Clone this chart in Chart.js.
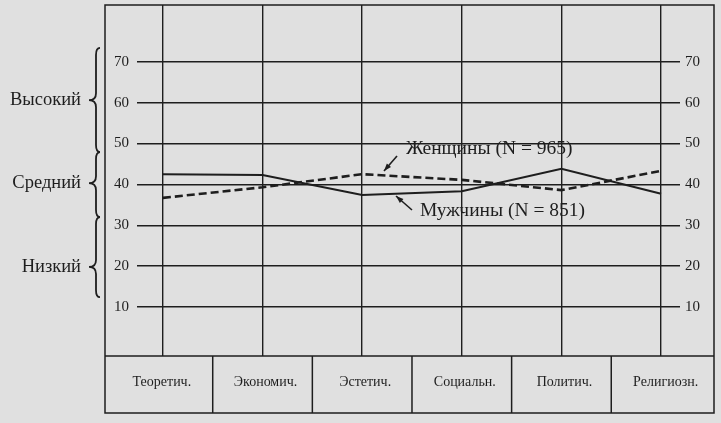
<!DOCTYPE html>
<html>
<head>
<meta charset="utf-8">
<script src="https://cdn.jsdelivr.net/npm/chart.js@4/dist/chart.umd.min.js"></script>
<style>
  html, body { margin: 0; padding: 0; background: #e0e0e0; }
  canvas { display: block; }
</style>
</head>
<body>
<canvas id="chart" width="721" height="423"></canvas>
<script>
const categories = ['Теоретич.', 'Экономич.', 'Эстетич.', 'Социальн.', 'Политич.', 'Религиозн.'];
const women = [36.7, 39.3, 42.5, 41.1, 38.6, 43.3];
const men = [42.5, 42.3, 37.4, 38.3, 43.8, 37.7];
const yTicks = [10, 20, 30, 40, 50, 60, 70];

// level brackets on the left: label, top, tip, bottom (scale values)
const bandLabels = ['Высокий', 'Средний', 'Низкий'];
const bandTop = [73.4, 47.9, 32.0];
const bandMid = [60.6, 40.3, 19.8];
const bandBottom = [47.9, 32.0, 12.4];

const ink = '#1e1e1e';
const serif = "'Liberation Serif', 'DejaVu Serif', serif";

function pts(arr) {
  return arr.map(function (v, i) { return { x: i, y: v }; });
}

function brace(ctx, xb, y0, ym, y1) {
  const r = 7;
  ctx.beginPath();
  ctx.moveTo(xb + 4, y0);
  ctx.quadraticCurveTo(xb, y0, xb, y0 + r);
  ctx.lineTo(xb, ym - r);
  ctx.quadraticCurveTo(xb, ym, xb - 7, ym);
  ctx.quadraticCurveTo(xb, ym, xb, ym + r);
  ctx.lineTo(xb, y1 - r);
  ctx.quadraticCurveTo(xb, y1, xb + 4, y1);
  ctx.stroke();
}

function arrow(ctx, x0, y0, x1, y1) {
  const a = Math.atan2(y1 - y0, x1 - x0);
  ctx.beginPath();
  ctx.moveTo(x0, y0);
  ctx.lineTo(x1, y1);
  ctx.stroke();
  ctx.beginPath();
  ctx.moveTo(x1, y1);
  ctx.lineTo(x1 - 8 * Math.cos(a - 0.35), y1 - 8 * Math.sin(a - 0.35));
  ctx.lineTo(x1 - 8 * Math.cos(a + 0.35), y1 - 8 * Math.sin(a + 0.35));
  ctx.closePath();
  ctx.fill();
}

const paper = {
  id: 'paper',
  beforeDraw(chart) {
    const ctx = chart.ctx;
    ctx.save();
    ctx.fillStyle = '#e0e0e0';
    ctx.fillRect(0, 0, chart.width, chart.height);
    ctx.restore();
  },
  afterDraw(chart) {
    const ctx = chart.ctx;
    const x = chart.scales.x;
    const y = chart.scales.y;
    const area = chart.chartArea;
    ctx.save();
    ctx.strokeStyle = ink;
    ctx.fillStyle = ink;

    // outer frame and category table
    ctx.lineWidth = 1.5;
    ctx.strokeRect(105, 5, 609, 408);
    ctx.beginPath();
    ctx.moveTo(105, area.bottom);
    ctx.lineTo(714, area.bottom);
    for (let i = 0; i < categories.length - 1; i++) {
      const px = x.getPixelForValue(i + 0.5);
      ctx.moveTo(px, area.bottom);
      ctx.lineTo(px, 413);
    }
    ctx.stroke();

    ctx.font = '14px ' + serif;
    ctx.textAlign = 'center';
    ctx.textBaseline = 'middle';
    categories.forEach(function (c, i) {
      const l = i === 0 ? 105 : x.getPixelForValue(i - 0.5);
      const r = i === categories.length - 1 ? 714 : x.getPixelForValue(i + 0.5);
      ctx.fillText(c, (l + r) / 2 + 3, 382);
    });

    // level brackets
    ctx.lineWidth = 1.8;
    ctx.font = '18.5px ' + serif;
    ctx.textAlign = 'right';
    bandLabels.forEach(function (b, i) {
      brace(ctx, 96, y.getPixelForValue(bandTop[i]), y.getPixelForValue(bandMid[i]), y.getPixelForValue(bandBottom[i]));
      ctx.fillText(b, 81, y.getPixelForValue(bandMid[i]));
    });

    // series annotations
    ctx.lineWidth = 1.6;
    ctx.font = '19.5px ' + serif;
    ctx.textAlign = 'left';
    ctx.fillText('Женщины (N = 965)', 406, 149);
    ctx.fillText('Мужчины (N = 851)', 420, 211);
    arrow(ctx, 397, 156, 384, 171);
    arrow(ctx, 412, 210, 396, 196);
    ctx.restore();
  }
};

const yTickOpts = {
  color: ink,
  font: { family: serif, size: 15 },
};

function fixY(width) {
  return function (s) {
    s.width = width;
    s.paddingTop = 0;
    s.paddingBottom = 0;
  };
}

new Chart(document.getElementById('chart'), {
  type: 'line',
  data: {
    datasets: [
      {
        label: 'Женщины (N = 965)',
        data: pts(women),
        borderColor: ink,
        borderWidth: 2.6,
        borderDash: [8, 4],
        pointRadius: 0,
        tension: 0,
      },
      {
        label: 'Мужчины (N = 851)',
        data: pts(men),
        borderColor: ink,
        borderWidth: 2,
        pointRadius: 0,
        tension: 0,
      }
    ]
  },
  options: {
    responsive: false,
    animation: false,
    layout: { padding: { top: 5, left: 0, right: 0, bottom: 0 } },
    plugins: {
      legend: { display: false },
      tooltip: { enabled: false },
    },
    scales: {
      x: {
        type: 'linear',
        min: -0.26,
        max: 5.19,
        afterBuildTicks: function (s) {
          s.ticks = categories.map(function (c, i) { return { value: i }; });
        },
        afterFit: function (s) {
          s.height = 67;
          s.paddingLeft = 0;
          s.paddingRight = 0;
        },
        ticks: { display: false },
        grid: { color: ink, lineWidth: 1.4, drawTicks: false },
        border: { display: false },
      },
      y: {
        min: -2,
        max: 83.9,
        afterBuildTicks: function (s) {
          s.ticks = yTicks.map(function (v) { return { value: v }; });
        },
        afterFit: fixY(137),
        ticks: Object.assign({ padding: 8 }, yTickOpts),
        grid: { color: ink, lineWidth: 1.4, drawTicks: false },
        border: { display: false },
      },
      y2: {
        position: 'right',
        min: -2,
        max: 83.9,
        afterBuildTicks: function (s) {
          s.ticks = yTicks.map(function (v) { return { value: v }; });
        },
        afterFit: fixY(41),
        ticks: Object.assign({ padding: 5 }, yTickOpts),
        grid: { display: false, drawTicks: false },
        border: { display: false },
      }
    }
  },
  plugins: [paper]
});
</script>
</body>
</html>
